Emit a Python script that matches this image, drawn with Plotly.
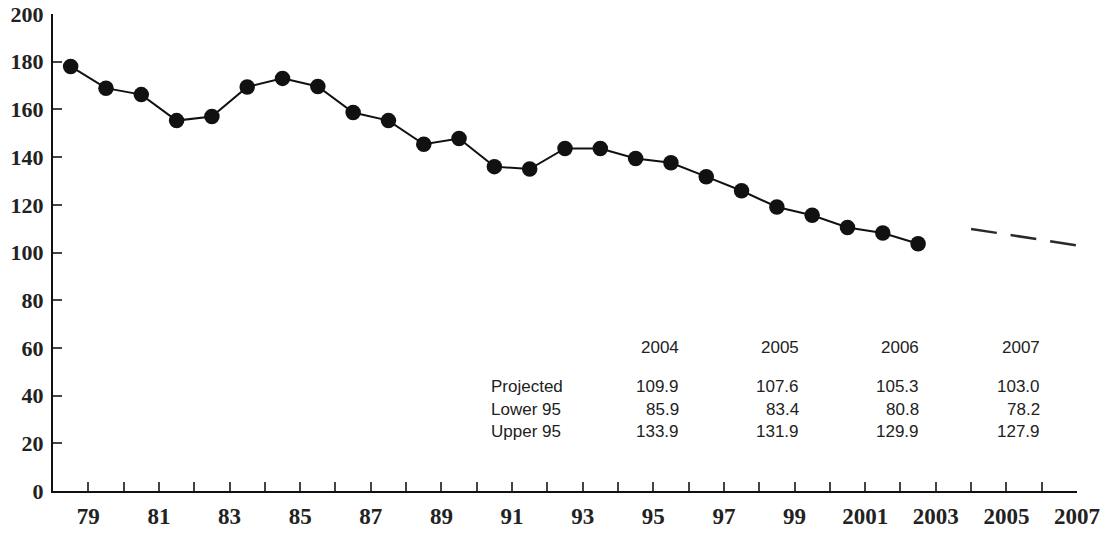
import plotly.graph_objects as go

# Historical series (years 1979-2003)
years = list(range(1979, 2004))
values = [178.0, 168.9, 166.2, 155.3, 157.0, 169.4, 173.0, 169.6, 158.7, 155.3,
          145.4, 147.8, 136.0, 135.0, 143.6, 143.6, 139.4, 137.6, 131.8, 125.9,
          119.1, 115.6, 110.5, 108.2, 103.7]

# Projection table
proj_years = [2004, 2005, 2006, 2007]
projected = [109.9, 107.6, 105.3, 103.0]
lower95 = [85.9, 83.4, 80.8, 78.2]
upper95 = [133.9, 131.9, 129.9, 127.9]

# Axis ticks
tick_years = list(range(1979, 2008))
tick_text = [(str(y)[2:] if y < 2000 else str(y)) if (y - 1979) % 2 == 0 else "" for y in tick_years]
y_ticks = list(range(0, 201, 20))

fig = go.Figure()

# historical points plotted mid-interval before each year's tick
fig.add_trace(go.Scatter(
    x=[y - 0.5 for y in years], y=values, mode="lines+markers",
    line=dict(color="#111111", width=2),
    marker=dict(color="#111111", size=15.5),
    showlegend=False, hoverinfo="skip"))

fig.add_trace(go.Scatter(
    x=proj_years, y=projected, mode="lines",
    line=dict(color="#2a2a2a", width=2.5, dash="26px,14px"),
    showlegend=False, hoverinfo="skip"))

# Table annotations
L, R, T, B = 53, 34, 14, 42
W, H = 1111, 533
pw, ph = W - L - R, H - T - B

def px_x(px):
    return (px - L) / pw

def px_y(py):
    return (H - B - py) / ph

col_right = [681, 801, 921, 1042]
row_y = [386, 409, 431]
tfont = dict(family="Liberation Sans, Arial, sans-serif", size=17, color="#222222")
ann = []
for cx, yr in zip(col_right, proj_years):
    ann.append(dict(x=px_x(cx), y=px_y(347), xref="paper", yref="paper", text=str(yr),
                    showarrow=False, xanchor="right", yanchor="middle", font=tfont))
rows = [("Projected", projected), ("Lower 95", lower95), ("Upper 95", upper95)]
for (label, vals), ry in zip(rows, row_y):
    ann.append(dict(x=px_x(489), y=px_y(ry), xref="paper", yref="paper", text=label,
                    showarrow=False, xanchor="left", yanchor="middle", font=tfont))
    for cx, v in zip(col_right, vals):
        ann.append(dict(x=px_x(cx), y=px_y(ry), xref="paper", yref="paper", text=f"{v:.1f}",
                        showarrow=False, xanchor="right", yanchor="middle", font=tfont))

axfont_y = dict(family="Liberation Serif, Times New Roman, serif", size=22, color="#222222", weight="bold")
axfont_x = dict(family="Liberation Serif, Times New Roman, serif", size=23, color="#222222", weight="bold")

fig.update_layout(
    width=W, height=H,
    margin=dict(l=L, r=R, t=T, b=B, pad=0, autoexpand=False),
    paper_bgcolor="white", plot_bgcolor="white",
    annotations=ann,
    xaxis=dict(range=[1978, 2007], tickvals=tick_years, ticktext=tick_text,
               ticks="inside", ticklen=9, tickwidth=1.5, tickcolor="#444444",
               showline=True, linecolor="#111111", linewidth=2,
               showgrid=False, zeroline=False, tickfont=axfont_x,
               ticklabelstandoff=3, automargin=False),
    yaxis=dict(range=[0, 200], tickvals=y_ticks,
               ticks="inside", ticklen=9, tickwidth=1.5, tickcolor="#444444",
               showline=True, linecolor="#111111", linewidth=2,
               showgrid=False, zeroline=False, tickfont=axfont_y,
               ticklabelstandoff=3, automargin=False),
)

fig.write_html("out.html", config={"displayModeBar": False},
               post_script="document.body.style.margin='0px';document.body.style.overflow='hidden';")
